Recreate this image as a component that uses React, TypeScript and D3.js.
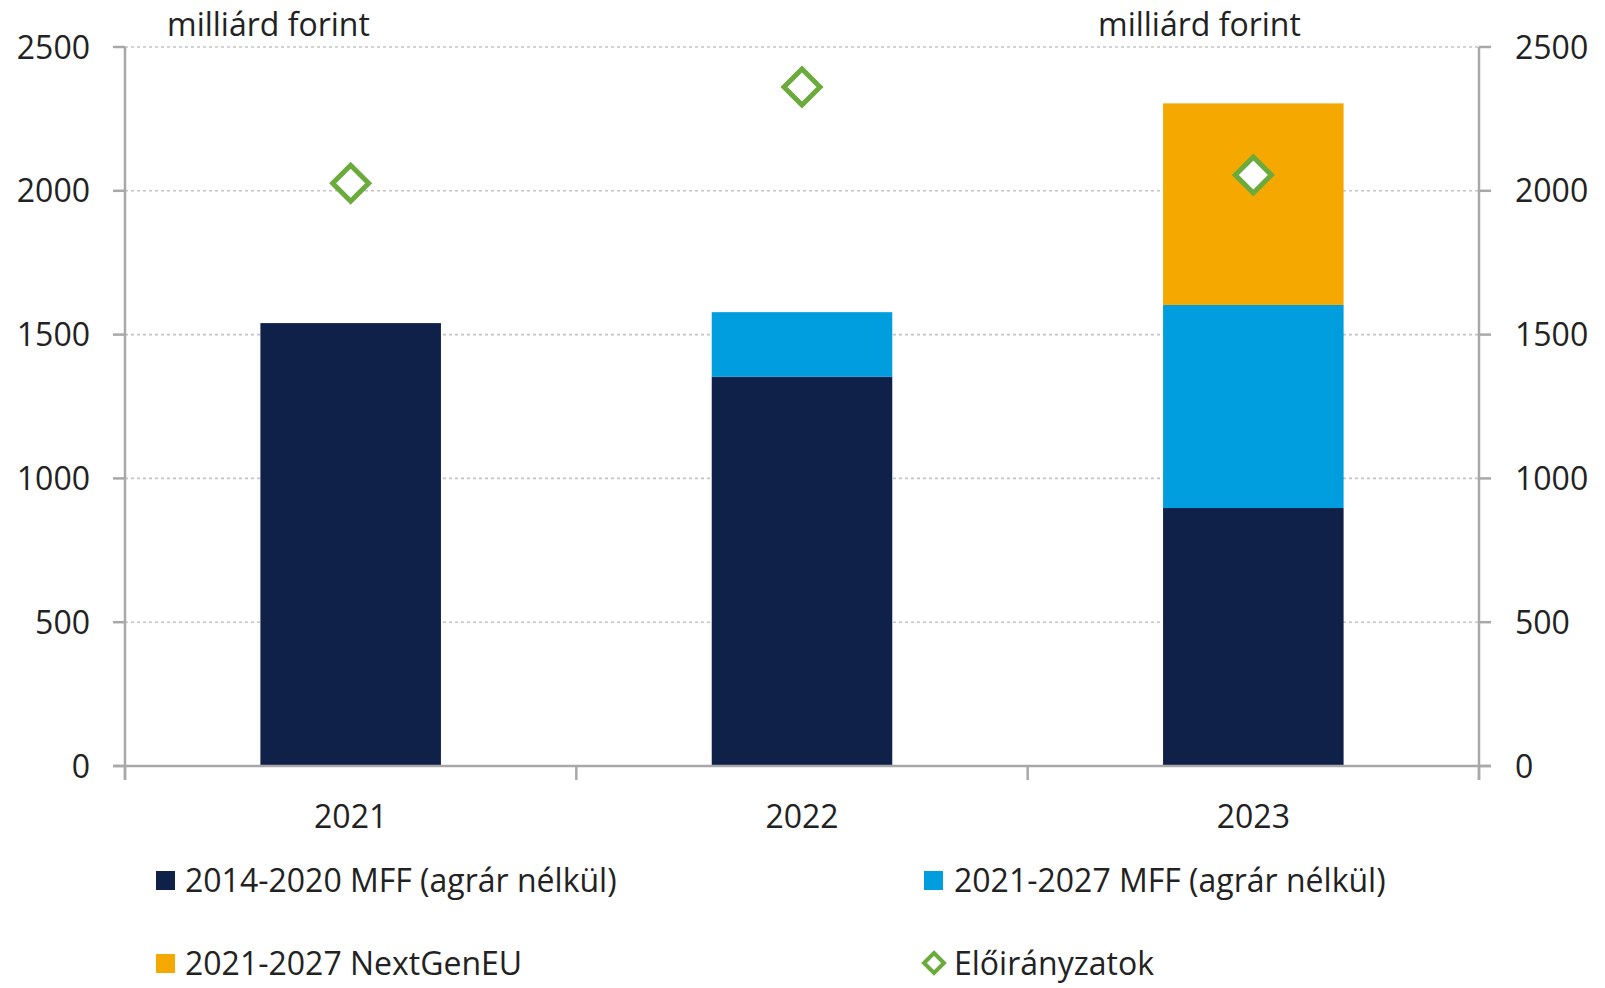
import React from "react";
import * as d3 from "d3";

const categories = ["2021", "2022", "2023"];
const mff1420 = [1540, 1353, 897];
const mff2127 = [0, 225, 706];
const nextGenEU = [0, 0, 701];
const eloiranyzatok = [2026, 2361, 2055];
const yTicks = [0, 500, 1000, 1500, 2000, 2500];

const seriesNames = ["2014-2020 MFF (agrár nélkül)", "2021-2027 MFF (agrár nélkül)", "2021-2027 NextGenEU", "Előirányzatok"];
const colors = ["#0f2148", "#009ddf", "#f5a800", "#6aab3c"];

const W = 1605;
const H = 988;
const FONT = "'Open Sans', sans-serif";
const TXT = "#222";

export default function App() {
  const left = 125;
  const right = 1479;
  const x = d3.scaleBand<string>().domain(categories).range([left, right]).paddingInner(0.6).paddingOuter(0.3);
  const y = d3.scaleLinear().domain([0, 2500]).range([766, 47]);
  const stackData = categories.map((c, i) => ({ c, a: mff1420[i], b: mff2127[i], n: nextGenEU[i] }));
  const stack = d3.stack<any>().keys(["a", "b", "n"])(stackData);
  const diamond = (cx: number, cy: number, r: number) => `M${cx},${cy - r}L${cx + r},${cy}L${cx},${cy + r}L${cx - r},${cy}Z`;
  const axisColor = "#a8a8a8";
  const boundaries = d3.range(categories.length + 1).map((i) => left + i * (right - left) / categories.length);
  const row1 = 880;
  const row2 = 963;

  return (
    <div style={{ position: "fixed", left: 0, top: 0, width: W, height: H, background: "#fff" }}>
      <svg width={W} height={H} style={{ display: "block", fontFamily: FONT }}>
        <rect width={W} height={H} fill="#fff" />
        {yTicks.filter((t) => t > 0).map((t) => (
          <line key={t} x1={left} x2={right} y1={y(t)} y2={y(t)} stroke="#c4c4c4" strokeWidth={1.6} strokeDasharray="3,3" />
        ))}
        {stack.map((layer, li) =>
          layer.map((d, i) =>
            d[1] - d[0] > 0 ? (
              <rect key={li + "-" + i} x={x(categories[i])} width={x.bandwidth()} y={y(d[1])} height={y(d[0]) - y(d[1])} fill={colors[li]} />
            ) : null
          )
        )}
        <line x1={left} x2={left} y1={y(2500)} y2={y(0) + 14} stroke={axisColor} strokeWidth={2.5} />
        <line x1={right} x2={right} y1={y(2500)} y2={y(0) + 14} stroke={axisColor} strokeWidth={2.5} />
        <line x1={left - 12} x2={right + 12} y1={y(0)} y2={y(0)} stroke={axisColor} strokeWidth={2.5} />
        {yTicks.map((t) => (
          <g key={"t" + t}>
            <line x1={left - 12} x2={left} y1={y(t)} y2={y(t)} stroke={axisColor} strokeWidth={2.5} />
            <line x1={right} x2={right + 12} y1={y(t)} y2={y(t)} stroke={axisColor} strokeWidth={2.5} />
            <text x={90} y={y(t)} dy="0.36em" textAnchor="end" fontSize={32} fill={TXT}>{t}</text>
            <text x={1515} y={y(t)} dy="0.36em" textAnchor="start" fontSize={32} fill={TXT}>{t}</text>
          </g>
        ))}
        {boundaries.map((b, i) => (
          <line key={"b" + i} x1={b} x2={b} y1={y(0)} y2={y(0) + 14} stroke={axisColor} strokeWidth={2.5} />
        ))}
        {categories.map((c) => (
          <text key={c} x={(x(c) as number) + x.bandwidth() / 2} y={816} dy="0.36em" textAnchor="middle" fontSize={32} fill={TXT}>{c}</text>
        ))}
        {eloiranyzatok.map((v, i) => (
          <path key={"d" + i} d={diamond((x(categories[i]) as number) + x.bandwidth() / 2, y(v), 18)} fill="#fff" stroke={colors[3]} strokeWidth={5} />
        ))}
        <text x={167} y={24} dy="0.36em" fontSize={32} fill={TXT}>milliárd forint</text>
        <text x={1098} y={24} dy="0.36em" fontSize={32} fill={TXT}>milliárd forint</text>
        <rect x={156} y={row1 - 9} width={19} height={19} fill={colors[0]} />
        <text x={185} y={row1} dy="0.36em" fontSize={32} fill={TXT}>{seriesNames[0]}</text>
        <rect x={924} y={row1 - 9} width={19} height={19} fill={colors[1]} />
        <text x={954} y={row1} dy="0.36em" fontSize={32} fill={TXT}>{seriesNames[1]}</text>
        <rect x={156} y={row2 - 9} width={19} height={19} fill={colors[2]} />
        <text x={185} y={row2} dy="0.36em" fontSize={32} fill={TXT}>{seriesNames[2]}</text>
        <path d={diamond(934, row2, 10)} fill="#fff" stroke={colors[3]} strokeWidth={4} />
        <text x={954} y={row2} dy="0.36em" fontSize={32} fill={TXT}>{seriesNames[3]}</text>
      </svg>
    </div>
  );
}
